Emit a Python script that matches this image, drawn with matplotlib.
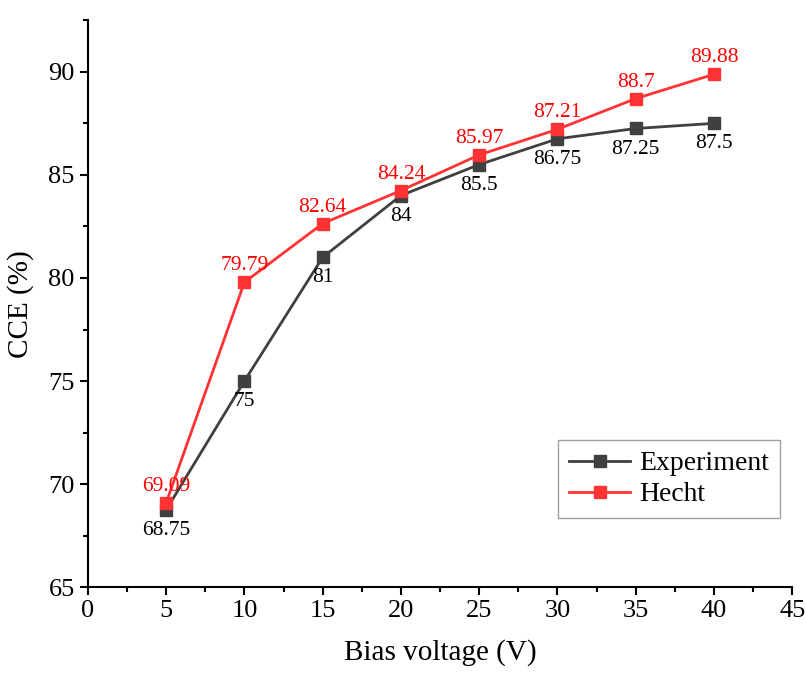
import matplotlib.pyplot as plt
from matplotlib.ticker import MultipleLocator

plt.rcParams['font.family'] = ['Liberation Serif', 'DejaVu Serif']

voltage = [5, 10, 15, 20, 25, 30, 35, 40]
experiment = [68.75, 75, 81, 84, 85.5, 86.75, 87.25, 87.5]
hecht = [69.09, 79.79, 82.64, 84.24, 85.97, 87.21, 88.7, 89.88]
exp_labels = ['68.75', '75', '81', '84', '85.5', '86.75', '87.25', '87.5']
hecht_labels = ['69.09', '79.79', '82.64', '84.24', '85.97', '87.21', '88.7', '89.88']

exp_color = '#404040'
hecht_color = '#ff3333'

fig = plt.figure(figsize=(8.06, 6.75), dpi=100)
ax = fig.add_axes([0.109, 0.130, 0.874, 0.840])

ax.plot(voltage, experiment, color=exp_color, lw=2, marker='s', ms=9, label='Experiment')
ax.plot(voltage, hecht, color=hecht_color, lw=2, marker='s', ms=9, label='Hecht')

for x, y, s in zip(voltage, experiment, exp_labels):
    ax.annotate(s, (x, y), xytext=(0, -8), textcoords='offset points',
                ha='center', va='top', fontsize=15.5, color='black')
for x, y, s in zip(voltage, hecht, hecht_labels):
    ax.annotate(s, (x, y), xytext=(0, 5), textcoords='offset points',
                ha='center', va='bottom', fontsize=15.5, color='red')

ax.set_xlim(0, 45)
ax.set_ylim(65, 92.5)
ax.xaxis.set_major_locator(MultipleLocator(5))
ax.xaxis.set_minor_locator(MultipleLocator(2.5))
ax.yaxis.set_major_locator(MultipleLocator(5))
ax.yaxis.set_minor_locator(MultipleLocator(2.5))
ax.tick_params(which='major', direction='out', length=6, width=1.5, labelsize=19)
ax.tick_params(which='minor', direction='out', length=3.5, width=1.5)

for side in ['top', 'right']:
    ax.spines[side].set_visible(False)
for side in ['left', 'bottom']:
    ax.spines[side].set_linewidth(1.5)

ax.set_xlabel('Bias voltage (V)', fontsize=21, labelpad=12)
ax.set_ylabel('CCE (%)', fontsize=21, labelpad=10)

leg = ax.legend(loc='lower right', bbox_to_anchor=(1.002, 0.097), fontsize=20,
                frameon=True, fancybox=False, edgecolor='#888888',
                handlelength=2.2, borderpad=0.4, labelspacing=0.2, handletextpad=0.3)
leg.get_frame().set_linewidth(1)

fig.savefig('out.png', dpi=100)
